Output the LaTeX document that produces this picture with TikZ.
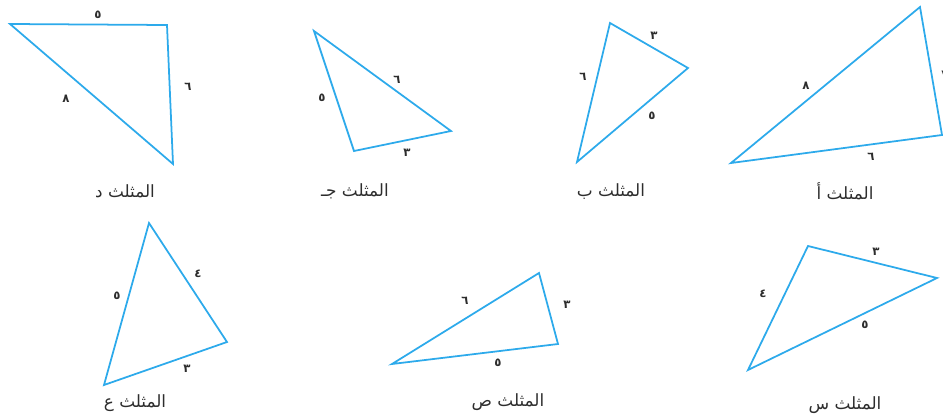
\documentclass[tikz,border=0pt]{standalone}
\usepackage{fontspec}
\newfontfamily\arabicfont[Script=Arabic]{DejaVu Sans}
\TeXXeTstate=1
\usetikzlibrary{positioning}
\definecolor{trblue}{RGB}{45,170,235}
\definecolor{trtext}{RGB}{45,45,45}

\begin{document}
\begin{tikzpicture}[
    x=0.03cm, y=-0.03cm,
    side/.style={draw=trblue, line width=1.5pt, line join=miter},
    len/.style={font=\arabicfont\bfseries, text=trtext, inner sep=1pt},
    trname/.style={font=\arabicfont\Large, text=trtext, inner sep=1pt}
]
    \useasboundingbox (0,0) rectangle (943,417);

    % Triangle d
    \coordinate (d1) at (10,24);
    \coordinate (d2) at (167,25);
    \coordinate (d3) at (173,164);
    \draw[side] (d1) -- (d2) -- (d3) -- cycle;
    \node[len] (d12) at (98,15) {\beginR ٥\endR};
    \node[len] (d23) at (188,87) {\beginR ٦\endR};
    \node[len] (d31) at (66,99) {\beginR ٨\endR};
    \node[trname] (dname) at (125,191) {\beginR المثلث د\endR};

    % Triangle j
    \coordinate (j1) at (314,31);
    \coordinate (j2) at (451,131);
    \coordinate (j3) at (354,151);
    \draw[side] (j1) -- (j2) -- (j3) -- cycle;
    \node[len] (j12) at (397,80) {\beginR ٦\endR};
    \node[len] (j23) at (407,153) {\beginR ٣\endR};
    \node[len] (j31) at (322,98) {\beginR ٥\endR};
    \node[trname] (jname) at (355,191) {\beginR المثلث جـ\endR};

    % Triangle b
    \coordinate (b1) at (610,23);
    \coordinate (b2) at (688,68);
    \coordinate (b3) at (577,162);
    \draw[side] (b1) -- (b2) -- (b3) -- cycle;
    \node[len] (b12) at (654,36) {\beginR ٣\endR};
    \node[len] (b23) at (652,116) {\beginR ٥\endR};
    \node[len] (b31) at (583,77) {\beginR ٦\endR};
    \node[trname] (bname) at (611,192) {\beginR المثلث ب\endR};

    % Triangle a
    \coordinate (a1) at (920,7);
    \coordinate (a2) at (942,135);
    \coordinate (a3) at (731,163);
    \draw[side] (a1) -- (a2) -- (a3) -- cycle;
    \node[len] (a12) at (945,75) {\beginR ٧\endR};
    \node[len] (a23) at (871,157) {\beginR ٦\endR};
    \node[len] (a31) at (806,86) {\beginR ٨\endR};
    \node[trname] (aname) at (845,191) {\beginR المثلث أ\endR};

    % Triangle e
    \coordinate (e1) at (149,223);
    \coordinate (e2) at (227,342);
    \coordinate (e3) at (104,385);
    \draw[side] (e1) -- (e2) -- (e3) -- cycle;
    \node[len] (e12) at (198,274) {\beginR ٤\endR};
    \node[len] (e23) at (187,369) {\beginR ٣\endR};
    \node[len] (e31) at (117,296) {\beginR ٥\endR};
    \node[trname] (ename) at (135,403) {\beginR المثلث ع\endR};

    % Triangle s (sad)
    \coordinate (s1) at (539,273);
    \coordinate (s2) at (558,344);
    \coordinate (s3) at (392,364);
    \draw[side] (s1) -- (s2) -- (s3) -- cycle;
    \node[len] (s12) at (567,305) {\beginR ٣\endR};
    \node[len] (s23) at (498,363) {\beginR ٥\endR};
    \node[len] (s31) at (465,301) {\beginR ٦\endR};
    \node[trname] (sname) at (508,402) {\beginR المثلث ص\endR};

    % Triangle x (sin)
    \coordinate (x1) at (808,246);
    \coordinate (x2) at (937,278);
    \coordinate (x3) at (748,370);
    \draw[side] (x1) -- (x2) -- (x3) -- cycle;
    \node[len] (x12) at (876,252) {\beginR ٣\endR};
    \node[len] (x23) at (865,325) {\beginR ٥\endR};
    \node[len] (x31) at (763,294) {\beginR ٤\endR};
    \node[trname] (xname) at (845,405) {\beginR المثلث س\endR};
\end{tikzpicture}
\end{document}
